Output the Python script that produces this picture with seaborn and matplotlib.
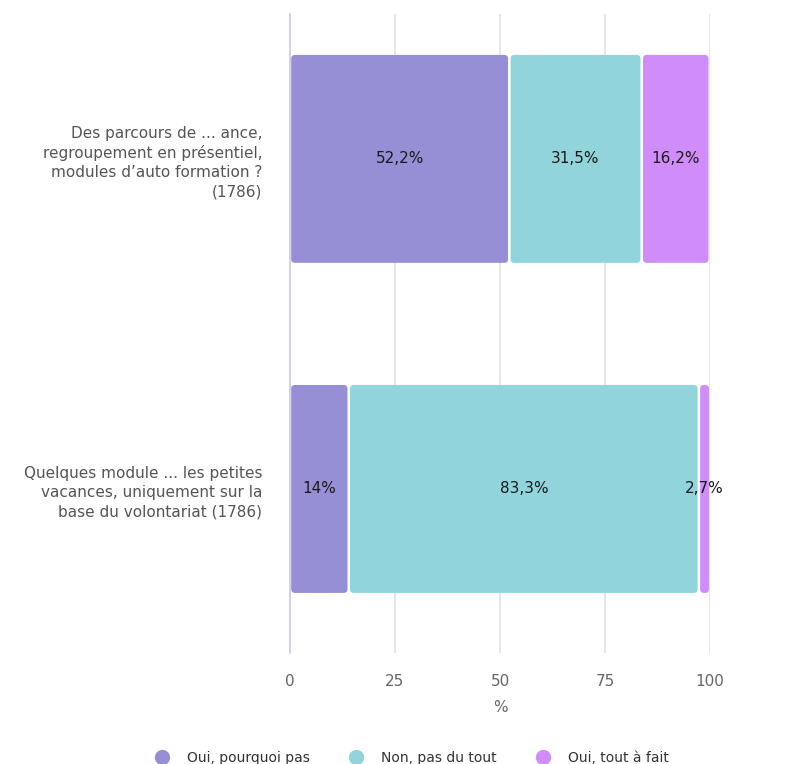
import numpy as np
import pandas as pd
import matplotlib
matplotlib.use("Agg")
import matplotlib.pyplot as plt
import seaborn as sns
from matplotlib.patches import FancyBboxPatch
from matplotlib.lines import Line2D

categories = [
    "Des parcours de ... ance,\nregroupement en présentiel,\nmodules d’auto formation ?\n(1786)",
    "Quelques module ... les petites\nvacances, uniquement sur la\nbase du volontariat (1786)",
]
series = ["Oui, pourquoi pas", "Non, pas du tout", "Oui, tout à fait"]
values = {
    "Oui, pourquoi pas": [52.2, 14.0],
    "Non, pas du tout": [31.5, 83.3],
    "Oui, tout à fait": [16.2, 2.7],
}
labels = {
    "Oui, pourquoi pas": ["52,2%", "14%"],
    "Non, pas du tout": ["31,5%", "83,3%"],
    "Oui, tout à fait": ["16,2%", "2,7%"],
}
colors = ["#968fd6", "#92d4db", "#d08cfa"]

sns.set_theme(style="white")
plt.rcParams["font.family"] = ["DejaVu Sans"]

fig = plt.figure(figsize=(7.9, 7.64), dpi=100)
ax = fig.add_axes([0.367, 0.1453, 0.532, 0.8364])

df = pd.DataFrame(values, index=categories)
left = np.zeros(len(categories))
for name, col in zip(series, colors):
    sns.barplot(x=df[name].values, y=categories, orient="h", color=col,
                width=0.63, left=left, saturation=1, ax=ax)
    left = left + df[name].values

# replace rectangles by rounded boxes with small white gaps
rects = list(ax.patches)
for p in rects:
    x, y = p.get_x(), p.get_y()
    w, h = p.get_width(), p.get_height()
    fc = p.get_facecolor()
    p.set_visible(False)
    gap = 0.3
    box = FancyBboxPatch((x + gap, y), max(w - 2 * gap, 0.1), h,
                         boxstyle="round,pad=0,rounding_size=0.9",
                         mutation_aspect=0.0125, facecolor=fc,
                         edgecolor="none", zorder=3)
    ax.add_patch(box)

# value labels
left = np.zeros(len(categories))
for name in series:
    vals = df[name].values
    for i, v in enumerate(vals):
        ax.text(left[i] + v / 2, i, labels[name][i], ha="center", va="center",
                fontsize=11, color="#1a1a1a", zorder=4)
    left = left + vals

ax.set_xlim(0, 100)
ax.set_ylim(1.497, -0.439)
ax.set_xticks([0, 25, 50, 75, 100])
ax.xaxis.grid(True, color="#e3e3e6", linewidth=1.2)
ax.set_axisbelow(True)
for s in ["top", "right", "bottom"]:
    ax.spines[s].set_visible(False)
ax.spines["left"].set_color("#cdc9ee")
ax.spines["left"].set_linewidth(1.2)
ax.tick_params(axis="x", length=0, pad=15, labelsize=11, labelcolor="#666666")
ax.tick_params(axis="y", length=0, pad=20, labelsize=11, labelcolor="#555555")
for t in ax.get_yticklabels():
    t.set_multialignment("right")
    t.set_linespacing(1.35)
ax.set_xlabel("%", fontsize=11, color="#666666", labelpad=8)
ax.set_ylabel("")

handles = [Line2D([0], [0], marker="o", linestyle="", markersize=10,
                  markerfacecolor=c, markeredgecolor=c) for c in colors]
fig.legend(handles, series, loc="lower center", bbox_to_anchor=(0.517, -0.018),
           ncol=3, frameon=False, fontsize=10, handletextpad=0.8,
           columnspacing=2.3, labelcolor="#333333")

fig.savefig("out.png", dpi=100, facecolor="white")
